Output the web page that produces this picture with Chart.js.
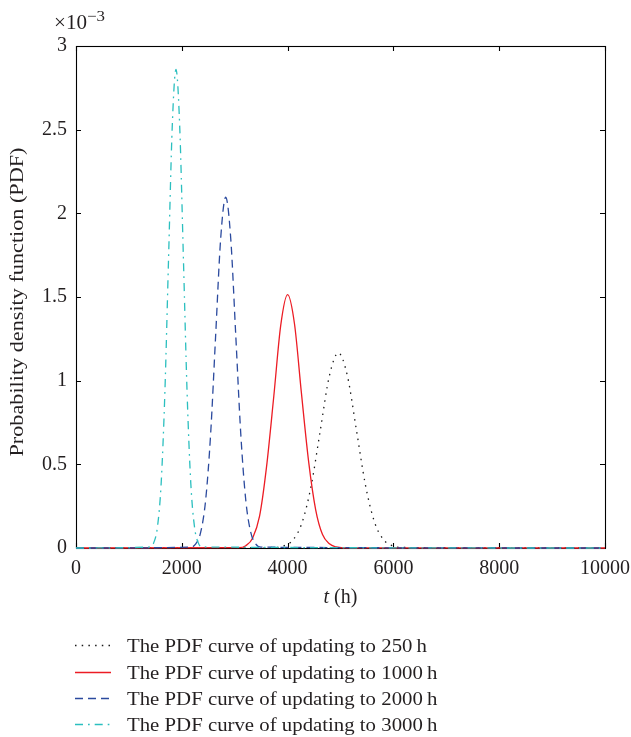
<!DOCTYPE html>
<html>
<head>
<meta charset="utf-8">
<script src="https://cdn.jsdelivr.net/npm/chart.js@4/dist/chart.umd.min.js"></script>
<style>
html,body{margin:0;padding:0;background:#fff}
#wrap{width:631px;height:737px;position:relative}
</style>
</head>
<body>
<div id="wrap"><canvas id="c" width="631" height="737"></canvas></div>
<script>
// ---- data (PDF values in units of 10^-3) ----
const seriesLabels = [
  "The PDF curve of updating to 250\u2009h",
  "The PDF curve of updating to 1000\u2009h",
  "The PDF curve of updating to 2000\u2009h",
  "The PDF curve of updating to 3000\u2009h"
];
const t250   = [0, 3760, 3930, 4110, 4280, 4450, 4620, 4790, 4960, 5130, 5300, 5470, 5640, 5810, 5990, 6160, 10000];
const pdf250 = [0, 0.003, 0.013, 0.051, 0.158, 0.379, 0.707, 1.029, 1.166, 1.029, 0.707, 0.379, 0.158, 0.051, 0.013, 0.003, 0];
const t1000   = [0, 3080, 3210, 3340, 3470, 3600, 3740, 3870, 4000, 4130, 4260, 4400, 4530, 4660, 4790, 4920, 5050, 10000];
const pdf1000 = [0, 0.002, 0.014, 0.06, 0.19, 0.48, 0.91, 1.33, 1.514, 1.34, 0.93, 0.51, 0.23, 0.08, 0.025, 0.006, 0.001, 0];
const t2000   = [0, 2165, 2260, 2355, 2450, 2545, 2640, 2735, 2830, 2925, 3020, 3115, 3210, 3305, 3400, 3495, 10000];
const pdf2000 = [0, 0.005, 0.023, 0.092, 0.284, 0.681, 1.271, 1.850, 2.096, 1.850, 1.271, 0.681, 0.284, 0.092, 0.023, 0.005, 0];
const t3000   = [0, 1400, 1470, 1540, 1610, 1680, 1750, 1820, 1890, 1960, 2030, 2100, 2170, 2240, 2310, 2380, 10000];
const pdf3000 = [0, 0.006, 0.032, 0.126, 0.387, 0.929, 1.735, 2.524, 2.86, 2.524, 1.735, 0.929, 0.387, 0.126, 0.032, 0.006, 0];
const xTicks = [0, 2000, 4000, 6000, 8000, 10000];
const yTicks = [0, 0.5, 1, 1.5, 2, 2.5, 3];
const xTitleItalic = "t";
const xTitleRest = " (h)";
const yTitle = "Probability density function (PDF)";
const yExpBase = "\u00d710";
const yExpSup = "\u22123";

const pts = (xs, ys) => xs.map((x, i) => ({x: x, y: ys[i]}));
const SERIF = '"Liberation Serif", "Times New Roman", serif';
const TXT = '#231f20';

const datasets = [
  {label: seriesLabels[0], data: pts(t250, pdf250), borderColor: '#1a1a1a', borderDash: [1.5, 5.2], order: 4},
  {label: seriesLabels[1], data: pts(t1000, pdf1000), borderColor: '#ec1c24', borderDash: [], order: 3},
  {label: seriesLabels[2], data: pts(t2000, pdf2000), borderColor: '#2b4a9e', borderDash: [8, 5], order: 2},
  {label: seriesLabels[3], data: pts(t3000, pdf3000), borderColor: '#2bbfbf', borderDash: [8, 5, 1.7, 5], order: 1}
].map(d => Object.assign(d, {borderWidth: 1.3, pointRadius: 0, fill: false,
  cubicInterpolationMode: 'monotone', clip: 6, borderCapStyle: 'butt'}));

function stretchText(ctx, text, x, y, targetW, align) {
  const w = ctx.measureText(text).width;
  const s = targetW ? targetW / w : 1;
  ctx.save();
  ctx.translate(x, y);
  ctx.scale(s, 1);
  ctx.textAlign = align || 'left';
  ctx.fillText(text, 0, 0);
  ctx.restore();
  return w * s;
}

const decor = {
  id: 'decor',
  beforeDatasetsDraw(chart) {
    const {ctx, chartArea: a, scales: {x, y}} = chart;
    ctx.save();
    ctx.strokeStyle = '#000';
    ctx.lineWidth = 1.1;
    ctx.setLineDash([]);
    ctx.strokeRect(a.left + 0.5, a.top + 0.5, a.right - a.left, a.bottom - a.top);
    const L = 5;
    ctx.beginPath();
    xTicks.forEach(v => {
      const px = Math.round(x.getPixelForValue(v)) + 0.5;
      ctx.moveTo(px, a.bottom); ctx.lineTo(px, a.bottom - L);
      ctx.moveTo(px, a.top); ctx.lineTo(px, a.top + L);
    });
    yTicks.forEach(v => {
      const py = Math.round(y.getPixelForValue(v)) + 0.5;
      ctx.moveTo(a.left, py); ctx.lineTo(a.left + L, py);
      ctx.moveTo(a.right, py); ctx.lineTo(a.right - L, py);
    });
    ctx.stroke();
    ctx.restore();
  },
  afterDraw(chart) {
    const {ctx, chartArea: a} = chart;
    ctx.save();
    ctx.fillStyle = TXT;
    ctx.textBaseline = 'alphabetic';
    // exponent label
    ctx.font = '20px ' + SERIF;
    const wb = stretchText(ctx, yExpBase, 54, 28.5, 33);
    ctx.font = '15px ' + SERIF;
    stretchText(ctx, yExpSup, 54 + wb, 21, 18);
    // y title
    ctx.font = '19px ' + SERIF;
    ctx.save();
    ctx.translate(22.5, (a.top + a.bottom) / 2 + 5);
    ctx.rotate(-Math.PI / 2);
    stretchText(ctx, yTitle, 0, 0, 309, 'center');
    ctx.restore();
    // x title
    ctx.font = 'italic 20px ' + SERIF;
    const wi = ctx.measureText(xTitleItalic).width;
    ctx.font = '20px ' + SERIF;
    const wr = ctx.measureText(xTitleRest).width;
    const cx = (a.left + a.right) / 2;
    let x0 = cx - (wi + wr) / 2;
    ctx.font = 'italic 20px ' + SERIF;
    ctx.textAlign = 'left';
    ctx.fillText(xTitleItalic, x0, 603);
    ctx.font = '20px ' + SERIF;
    ctx.fillText(xTitleRest, x0 + wi, 603);
    // legend
    ctx.font = '19.5px ' + SERIF;
    const baseW = ctx.measureText(seriesLabels[0]).width;
    const sc = 300 / baseW;
    const rows = [645.5, 672.5, 698.5, 724.5];
    chart.data.datasets.forEach((ds, i) => {
      const yy = rows[i];
      ctx.save();
      ctx.strokeStyle = ds.borderColor;
      ctx.lineWidth = ds.borderWidth;
      ctx.setLineDash(ds.borderDash);
      ctx.beginPath();
      ctx.moveTo(75, yy); ctx.lineTo(111, yy);
      ctx.stroke();
      ctx.restore();
      ctx.fillStyle = TXT;
      const w = ctx.measureText(ds.label).width;
      stretchText(ctx, ds.label, 127, yy + 6.8, w * sc);
    });
    ctx.restore();
  }
};

new Chart(document.getElementById('c'), {
  type: 'line',
  data: {datasets: datasets},
  options: {
    responsive: false,
    animation: false,
    events: [],
    layout: {padding: {left: 0, top: 46, right: 26, bottom: 0}},
    plugins: {legend: {display: false}, tooltip: {enabled: false}},
    scales: {
      x: {
        type: 'linear', min: 0, max: 10000,
        afterBuildTicks: s => { s.ticks = xTicks.map(v => ({value: v})); },
        afterFit: s => { s.height = 189; s.paddingLeft = 0; s.paddingRight = 0; },
        grid: {display: false, drawTicks: false},
        border: {display: false},
        ticks: {padding: 9, color: TXT, font: {family: SERIF, size: 20}, maxRotation: 0,
          callback: v => String(v)}
      },
      y: {
        type: 'linear', min: 0, max: 3,
        afterBuildTicks: s => { s.ticks = yTicks.map(v => ({value: v})); },
        afterFit: s => { s.width = 76; s.paddingTop = 0; s.paddingBottom = 0; },
        grid: {display: false, drawTicks: false},
        border: {display: false},
        ticks: {padding: 9, color: TXT, font: {family: SERIF, size: 20},
          callback: v => String(v)}
      }
    }
  },
  plugins: [decor]
});
</script>
</body>
</html>
